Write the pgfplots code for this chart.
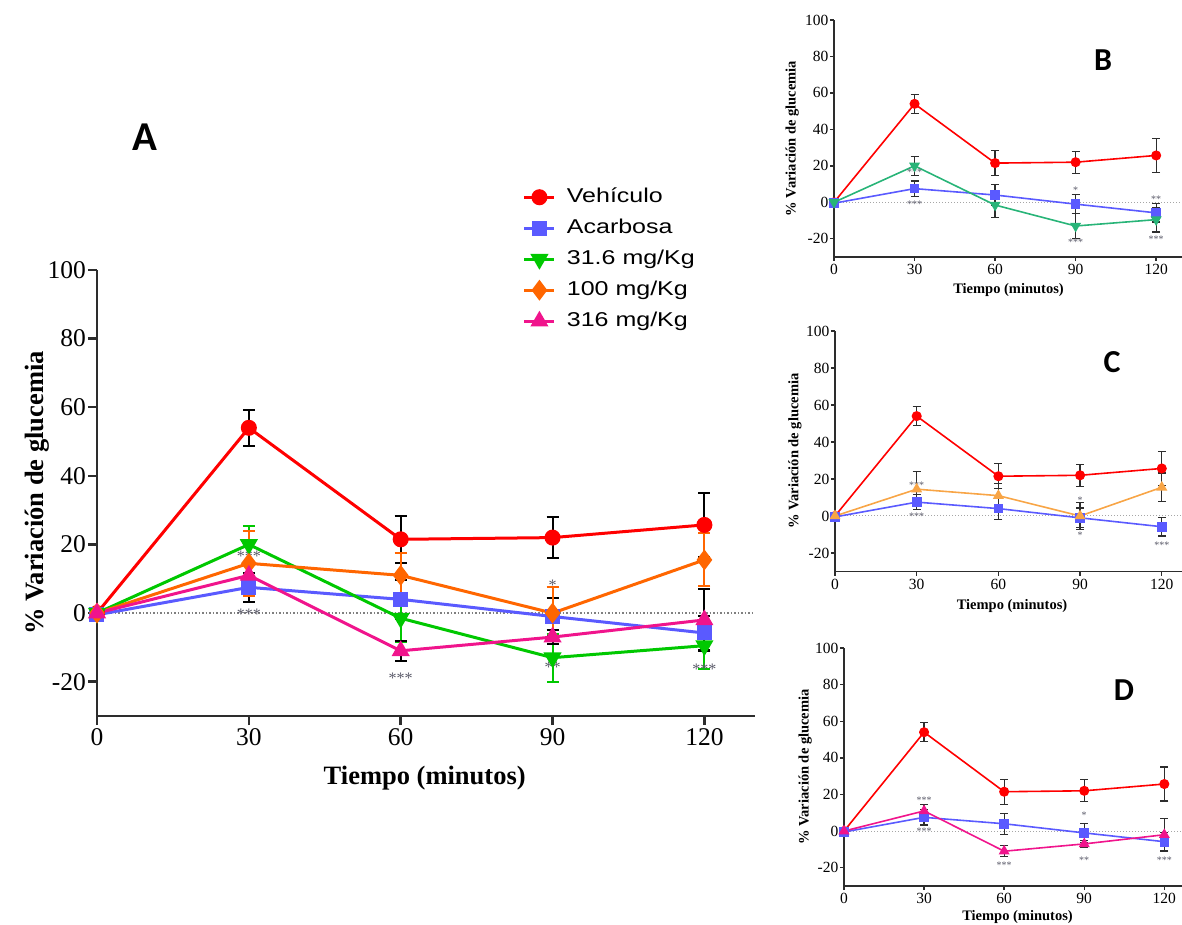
\documentclass[border=0pt]{standalone}
\usepackage{fontspec}
\setmainfont{Liberation Serif}
\setsansfont{Liberation Sans}
\newfontfamily\carlito{Carlito}
\usepackage{pgfplots}
\usepackage{pgfplotstable}
\pgfplotsset{compat=1.18}

\definecolor{cveh}{RGB}{255,0,0}
\definecolor{caca}{RGB}{90,90,255}
\definecolor{cgrn}{RGB}{0,200,0}
\definecolor{corg}{RGB}{255,102,0}
\definecolor{cpnk}{RGB}{240,20,140}
\definecolor{cteal}{RGB}{40,180,120}
\definecolor{clor}{RGB}{248,165,70}
\definecolor{axgray}{RGB}{45,45,45}
\definecolor{stargray}{RGB}{90,90,105}

\pgfplotstableread{
x y e
0 0 0
30 54 5.2
60 21.5 6.8
90 22 6
120 25.7 9.3
}\veh
\pgfplotstableread{
x y e
0 -0.5 0
30 7.5 4.2
60 4 5.7
90 -1 5.3
120 -5.8 5
}\aca
\pgfplotstableread{
x y e
0 0 0
30 20 5.3
60 -1.5 7
90 -13 7
120 -9.5 6.8
}\dlow
\pgfplotstableread{
x y e
0 0 0
30 14.5 9.5
60 11 6.5
90 0 7.5
120 15.5 7.7
}\dmid
\pgfplotstableread{
x y e
0 0 0
30 11 3.3
60 -11 3
90 -7 2
120 -2 9
}\dhigh

\pgfplotsset{
  basestyle/.style={
    scale only axis, clip=false,
    axis x line*=bottom, axis y line*=left,
    xmin=0, xmax=130, ymin=-30, ymax=100,
    xtick={0,30,60,90,120}, ytick={-20,0,20,40,60,80,100},
    tick align=outside,
    /pgf/number format/assume math mode=true,
    axis line style={axgray},
  },
  bigstyle/.style={basestyle,
    axis line style={line width=2.5pt},
    major tick length=9pt,
    every tick/.style={axgray, line width=2.5pt},
    ticklabel style={font=\fontsize{25.5}{26}\selectfont},
    yticklabel style={inner sep=2pt},
    xlabel style={font=\bfseries\fontsize{26.5}{27}\selectfont, at={(axis description cs:0.498,-0.139)}, anchor=center},
    ylabel style={font=\bfseries\fontsize{26.5}{27}\selectfont, at={(axis description cs:-0.091,0.5)}, anchor=center},
  },
  smallstyle/.style={basestyle,
    axis line style={line width=1.6pt},
    major tick length=4pt,
    every tick/.style={axgray, line width=1.4pt},
    ticklabel style={font=\fontsize{15.5}{16}\selectfont},
    yticklabel style={inner sep=1.5pt},
    xlabel style={font=\bfseries\fontsize{14.5}{15}\selectfont, anchor=center},
    ylabel style={font=\bfseries\fontsize{14.5}{15}\selectfont, anchor=center},
    xlabel={Tiempo (minutos)}, ylabel={\% Variación de glucemia},
  },
  errA/.style={/pgfplots/error bars/y dir=both, /pgfplots/error bars/y explicit,
    /pgfplots/error bars/error bar style={black, line width=2pt, solid},
    /pgfplots/error bars/error mark options={black, rotate=90, mark size=6pt, line width=2pt}},
  errAc/.style={/pgfplots/error bars/y dir=both, /pgfplots/error bars/y explicit,
    /pgfplots/error bars/error bar style={#1, line width=2pt, solid},
    /pgfplots/error bars/error mark options={#1, rotate=90, mark size=6pt, line width=2pt}},
  errS/.style={/pgfplots/error bars/y dir=both, /pgfplots/error bars/y explicit,
    /pgfplots/error bars/error bar style={axgray, line width=1.2pt, solid},
    /pgfplots/error bars/error mark options={axgray, rotate=90, mark size=4pt, line width=1.2pt}},
}
\tikzset{
  astA/.style={text=stargray, font=\fontsize{16}{16}\selectfont, inner sep=0pt, yshift=-3pt},
  astS/.style={text=stargray, font=\fontsize{10}{10}\selectfont, inner sep=0pt, yshift=-2pt},
}

\begin{document}
\begin{tikzpicture}
\useasboundingbox (0,0) rectangle (1182pt,924pt);

% ---------------- Panel A ----------------
\begin{axis}[bigstyle, at={(97pt,208pt)}, anchor=south west,
  width=658pt, height=446pt,
  xlabel={Tiempo (minutos)}, ylabel={\% Variación de glucemia},
  legend style={at={(axis description cs:0.647,1.186)}, anchor=north west,
    draw=none, fill=none, inner sep=0pt, row sep=11pt, column sep=10pt,
    font=\sffamily\fontsize{20}{20}\selectfont,
    nodes={inner sep=1pt, text height=14pt, text depth=4pt}},
  legend cell align=left,
  legend image code/.code={\draw[mark repeat=2,mark phase=2] plot coordinates {(0pt,0pt) (15pt,0pt) (30pt,0pt)};},
]
\addplot[forget plot, gray, line width=1.5pt, dotted] coordinates {(0,0) (130,0)};
\addplot[cveh, line width=3pt, mark=*, mark size=6.5pt, mark options={solid, fill=cveh}, errA]
  table[x=x, y=y, y error=e]{\veh};
\addplot[caca, line width=3pt, mark=square*, mark size=6pt, mark options={solid, fill=caca}, errA]
  table[x=x, y=y, y error=e]{\aca};
\addplot[cgrn, line width=3pt, mark=triangle*, mark size=7.5pt, mark options={solid, fill=cgrn, rotate=180}, errAc=cgrn]
  table[x=x, y=y, y error=e]{\dlow};
\addplot[corg, line width=3pt, mark=diamond*, mark size=8pt, mark options={solid, fill=corg}, errAc=corg]
  table[x=x, y=y, y error=e]{\dmid};
\addplot[cpnk, line width=3pt, mark=triangle*, mark size=7.5pt, mark options={solid, fill=cpnk}, errA]
  table[x=x, y=y, y error=e]{\dhigh};
\legend{\scalebox{1.25}[1]{Vehículo},\scalebox{1.25}[1]{Acarbosa},\scalebox{1.25}[1]{31.6 mg/Kg},\scalebox{1.25}[1]{100 mg/Kg},\scalebox{1.25}[1]{316 mg/Kg}}
\node[astA] at (axis cs:30,17.5) {***};
\node[astA] at (axis cs:30,0.4) {***};
\node[astA] at (axis cs:60,-18) {***};
\node[astA] at (axis cs:90,9) {*};
\node[astA] at (axis cs:90,-15) {**};
\node[astA] at (axis cs:120,-15.5) {***};
\end{axis}

% ---------------- Panel B ----------------
\begin{axis}[smallstyle, at={(834pt,667pt)}, anchor=south west,
  width=349pt, height=237pt,
  xlabel style={at={(axis description cs:0.5,-0.139)}},
  ylabel style={at={(axis description cs:-0.12,0.5)}},
]
\addplot[gray!70, line width=1pt, dotted] coordinates {(0,0) (130,0)};
\addplot[cveh, line width=1.6pt, mark=*, mark size=4.2pt, mark options={solid, fill=cveh}, errS]
  table[x=x, y=y, y error=e]{\veh};
\addplot[caca, line width=1.6pt, mark=square*, mark size=4pt, mark options={solid, fill=caca}, errS]
  table[x=x, y=y, y error=e]{\aca};
\addplot[cteal, line width=1.6pt, mark=triangle*, mark size=4.8pt, mark options={solid, fill=cteal, rotate=180}, errS]
  table[x=x, y=y, y error=e]{\dlow};
\node[astS] at (axis cs:30,17.6) {***};
\node[astS] at (axis cs:30,0) {***};
\node[astS] at (axis cs:90,7.5) {*};
\node[astS] at (axis cs:90,-21) {***};
\node[astS] at (axis cs:120,3) {**};
\node[astS] at (axis cs:120,-19) {***};
\end{axis}

% ---------------- Panel C ----------------
\begin{axis}[smallstyle, at={(835pt,352.5pt)}, anchor=south west,
  width=354pt, height=240.5pt,
  xlabel style={at={(axis description cs:0.5,-0.143)}},
  ylabel style={at={(axis description cs:-0.113,0.5)}},
]
\addplot[gray!70, line width=1pt, dotted] coordinates {(0,0) (130,0)};
\addplot[cveh, line width=1.6pt, mark=*, mark size=4.2pt, mark options={solid, fill=cveh}, errS]
  table[x=x, y=y, y error=e]{\veh};
\addplot[caca, line width=1.6pt, mark=square*, mark size=4pt, mark options={solid, fill=caca}, errS]
  table[x=x, y=y, y error=e]{\aca};
\addplot[clor, line width=1.6pt, mark=triangle*, mark size=4.8pt, mark options={solid, fill=clor}, errS]
  table[x=x, y=y, y error=e]{\dmid};
\node[astS] at (axis cs:30,17.8) {***};
\node[astS] at (axis cs:30,1) {***};
\node[astS] at (axis cs:90,9.7) {*};
\node[astS] at (axis cs:90,-9.3) {*};
\node[astS] at (axis cs:120,-14.8) {***};
\end{axis}

% ---------------- Panel D ----------------
\begin{axis}[smallstyle, at={(844pt,38pt)}, anchor=south west,
  width=347pt, height=238pt,
  xlabel style={at={(axis description cs:0.5,-0.13)}},
  ylabel style={at={(axis description cs:-0.112,0.5)}},
]
\addplot[gray!70, line width=1pt, dotted] coordinates {(0,0) (130,0)};
\addplot[cveh, line width=1.6pt, mark=*, mark size=4.2pt, mark options={solid, fill=cveh}, errS]
  table[x=x, y=y, y error=e]{\veh};
\addplot[caca, line width=1.6pt, mark=square*, mark size=4pt, mark options={solid, fill=caca}, errS]
  table[x=x, y=y, y error=e]{\aca};
\addplot[cpnk, line width=1.6pt, mark=triangle*, mark size=4.8pt, mark options={solid, fill=cpnk}, errS]
  table[x=x, y=y, y error=e]{\dhigh};
\node[astS] at (axis cs:30,18) {***};
\node[astS] at (axis cs:30,1) {***};
\node[astS] at (axis cs:60,-17.6) {***};
\node[astS] at (axis cs:90,10) {*};
\node[astS] at (axis cs:90,-14.6) {**};
\node[astS] at (axis cs:120,-15) {***};
\end{axis}

% ---------------- Panel letters ----------------
\node[font=\carlito\bfseries\fontsize{41}{41}\selectfont] at (145pt,787pt) {A};
\node[font=\carlito\bfseries\fontsize{32}{32}\selectfont] at (1103pt,864pt) {B};
\node[font=\carlito\bfseries\fontsize{32}{32}\selectfont] at (1112pt,562pt) {C};
\node[font=\carlito\bfseries\fontsize{32}{32}\selectfont] at (1124pt,234pt) {D};
\end{tikzpicture}
\end{document}
